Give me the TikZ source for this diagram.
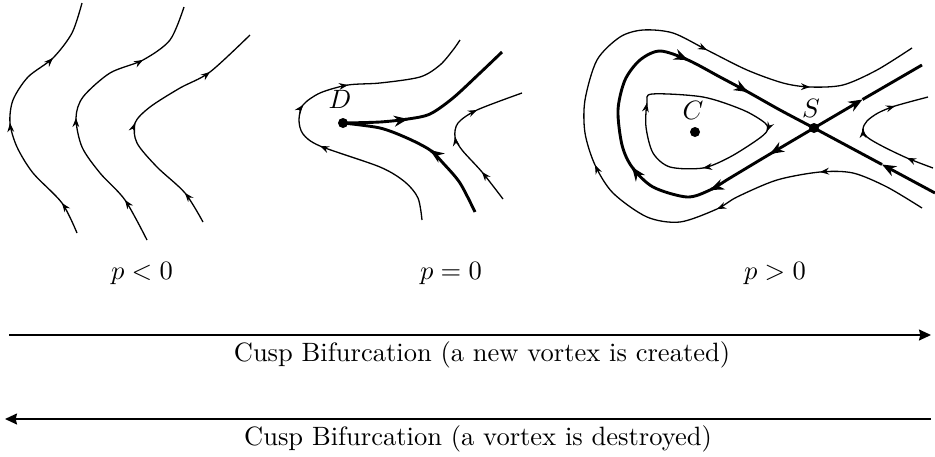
\documentclass[tikz,border=0pt]{standalone}
\usetikzlibrary{arrows.meta,calc}
\tikzset{
  flow/.style={line width=1.3pt},
  sep/.style={line width=2.9pt},
  fixpt/.style={circle,fill,inner sep=0pt,minimum size=10pt},
  lbl/.style={anchor=base,scale=2.65},
}
% arrow tip on a flow line at #2, coming from #1, going on to #3
\newcommand{\ftip}[3]{\draw[flow,-{Stealth[length=9pt,width=6.8pt]}] ($(#2)+0.03*(#1)-0.03*(#3)$) -- (#2);}
\newcommand{\ttip}[3]{\draw[sep,-{Stealth[length=14pt,width=11pt]}] ($(#2)+0.03*(#1)-0.03*(#3)$) -- (#2);}
\begin{document}
\begin{tikzpicture}[x=1pt,y=-1pt,>=Stealth]
    \useasboundingbox (0,0) rectangle (935,456);
    % p < 0
    \draw[flow] plot[smooth] coordinates {(77,233) (62,203) (33,173) (17,147) (10,123) (13,100) (28,77) (53,58) (72,33) (82,3)};
    \ftip{77,233}{62,203}{33,173}
    \ftip{17,147}{10,123}{13,100}
    \ftip{28,77}{53,58}{72,33}
    \draw[flow] plot[smooth] coordinates {(147,240) (125,200) (100,173) (82,147) (76,118) (83,97) (110,73) (143,60) (170,40) (184,7)};
    \ftip{147,240}{125,200}{100,173}
    \ftip{82,147}{76,118}{83,97}
    \ftip{110,73}{143,60}{170,40}
    \draw[flow] plot[smooth] coordinates {(203,222) (185,193) (157,167) (137,143) (135,123) (150,107) (180,88) (210,72) (250,35)};
    \ftip{203,222}{185,193}{157,167}
    \ftip{137,143}{135,123}{150,107}
    \ftip{180,88}{210,72}{250,35}
    \node[lbl] (lneg) at (142,279) {$p<0$};
    % p = 0
    \node[fixpt] (D) at (343,123) {};
    \node[lbl] (Dlbl) at (340,108) {$D$};
    \draw[flow] plot[smooth] coordinates {(422,220) (418,198) (405,182) (380,167) (320,146) (303,134) (299,120) (303,105) (320,93) (348,85) (380,83) (420,77) (440,65) (453,50) (460,40)};
    \ftip{380,167}{320,146}{303,134}
    \ftip{299,120}{303,105}{320,93}
    \ftip{320,93}{348,85}{380,83}
    \draw[sep] plot[smooth] coordinates {(D.center) (380,122) (408,119) (430,114) (453,98) (480,73) (502,52)};
    \ttip{380,122}{408,119}{430,114}
    \draw[sep] plot[smooth] coordinates {(475,212) (460,183) (443,163) (430,150) (407,138) (380,128) (D.center)};
    \ttip{443,163}{430,150}{407,138}
    \draw[flow] plot[smooth] coordinates {(503,199) (482,172) (462,150) (455,137) (458,123) (477,110) (522,93)};
    \ftip{503,199}{482,172}{462,150}
    \ftip{462,150}{455,137}{458,123}
    \ftip{458,123}{477,110}{522,93}
    \node[lbl] (lzero) at (451,279) {$p=0$};
    % p > 0
    \node[fixpt] (C) at (695,132) {};
    \node[fixpt] (S) at (814,128) {};
    \node[lbl] (Clbl) at (693,119) {$C$};
    \node[lbl] (Slbl) at (811,117) {$S$};
    \draw[sep] plot[smooth] coordinates {(S.center) (770,154) (730,178) (710,190) (687,197) (653,187) (632,167) (622,145) (618,110) (625,80) (640,60) (660,51) (688,60) (720,77) (748,92) (780,110) (S.center)};
    \ttip{814,128}{770,154}{730,178}
    \ttip{730,178}{710,190}{687,197}
    \ttip{653,187}{632,167}{622,145}
    \ttip{660,51}{688,60}{720,77}
    \ttip{720,77}{748,92}{780,110}
    \coordinate (sepLR) at (935,193);
    \coordinate (lrmid) at (882,164.5);
    \coordinate (sepUR) at (922,65);
    \coordinate (urmid) at (862.5,99.5);
    \draw[sep,-{Stealth[length=14pt,width=11pt]}] (sepLR) -- (lrmid);
    \draw[sep] (lrmid) -- (S.center);
    \draw[sep,-{Stealth[length=14pt,width=11pt]}] (S.center) -- (urmid);
    \draw[sep] (urmid) -- (sepUR);
    \draw[flow] plot[smooth cycle] coordinates {(652,94) (703,97) (743,110) (765,123) (767,131) (757,140) (730,157) (703,168) (670,167) (653,153) (646,127) (647,103)};
    \ftip{765,123}{767,131}{757,140}
    \ftip{730,157}{703,168}{670,167}
    \ftip{646,127}{647,103}{652,94}
    \draw[flow] plot[smooth] coordinates {(922,208) (887,187) (853,173) (820,172) (777,180) (737,197) (717,209) (680,222) (647,217) (613,193) (595,165) (585,133) (585,100) (597,60) (620,37) (643,30) (673,33) (707,50) (747,70) (783,83) (810,87) (843,85) (877,70) (912,48)};
    \ftip{853,173}{820,172}{777,180}
    \ftip{737,197}{717,209}{680,222}
    \ftip{613,193}{595,165}{585,133}
    \ftip{673,33}{707,50}{747,70}
    \ftip{783,83}{810,87}{843,85}
    \draw[flow] plot[smooth] coordinates {(933,168) (907,158) (882,146) (867,137) (863,129) (867,121) (878,113) (895,106) (928,97)};
    \ftip{933,168}{907,158}{882,146}
    \ftip{867,137}{863,129}{867,121}
    \ftip{878,113}{895,106}{928,97}
    \node[lbl] (lpos) at (775,279) {$p>0$};
    % bifurcation arrows
    \coordinate (fwdL) at (9,335);
    \coordinate (fwdR) at (931,335);
    \coordinate (bwdR) at (931,419);
    \coordinate (bwdL) at (5,419);
    \draw[line width=1.45pt,-{Stealth[length=12pt,width=11pt,inset=1.3pt]}] (fwdL) -- (fwdR);
    \node[lbl] (fwdtxt) at (482,361) {Cusp Bifurcation (a new vortex is created)};
    \draw[line width=1.6pt,-{Stealth[length=12pt,width=11pt,inset=1.3pt]}] (bwdR) -- (bwdL);
    \node[lbl] (bwdtxt) at (478,445) {Cusp Bifurcation (a vortex is destroyed)};
  \end{tikzpicture}
\end{document}
